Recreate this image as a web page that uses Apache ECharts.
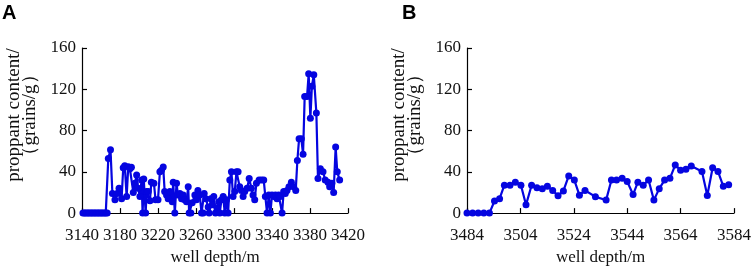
<!DOCTYPE html>
<html>
<head>
<meta charset="utf-8">
<script src="https://cdn.jsdelivr.net/npm/echarts@6/dist/echarts.min.js"></script>
<style>
  html, body { margin: 0; padding: 0; background: #fff; }
  #chart { width: 754px; height: 271px; }
</style>
</head>
<body>
<div id="chart"></div>
<script>
// panel A: well depth (m) and proppant content (grains/g)
const depthA = [
  3141, 3142.5, 3144, 3145.5, 3147, 3148.5, 3150, 3151.5, 3153, 3154.5, 3156, 3157.5, 3159, 3160.5, 3162, 3163.5, 3165, 3166.5,
  3167.7, 3170, 3172, 3174.7, 3177, 3179, 3181.7, 3183.4, 3185, 3187, 3188.7, 3190.4, 3192, 3194, 3195.7, 3197.5, 3199,
  3201, 3202.7, 3203.8, 3205, 3207, 3208, 3209.7, 3211.5, 3213, 3215.7, 3217.4, 3220, 3222, 3223.7, 3225.5, 3227, 3229,
  3230.7, 3232.5, 3235, 3236, 3237.7, 3239.5, 3241, 3243, 3244.8, 3246.5, 3248, 3250, 3251.8, 3252.8, 3254.6, 3256,
  3258.8, 3260.5, 3262, 3264, 3265.8, 3267.5, 3268.6, 3270.3, 3272.8, 3273.8, 3275.6, 3277.3, 3278.7, 3280.5, 3282,
  3284, 3285, 3286.8, 3288.6, 3290.3, 3292, 3293.8, 3295.6, 3297.3, 3299, 3300.8, 3302.6, 3304.3, 3306, 3307.8, 3309.6,
  3311.3, 3313.8, 3316, 3318.3, 3320, 3321.8, 3323.6, 3326.4, 3328.9, 3331.3, 3333, 3334.8, 3336.6, 3338.3, 3340,
  3341.8, 3343.6, 3345.3, 3347, 3348.8, 3350.6, 3352.3, 3354, 3355.8, 3357.9, 3360.4, 3362.8, 3365, 3366.7, 3368.5,
  3370.9, 3372.7, 3374.4, 3376.9, 3378.6, 3380.4, 3382, 3384, 3386.7, 3388.4, 3390.9, 3393.7, 3396, 3398.9, 3400.7,
  3403, 3404.9, 3407, 3408.7, 3411.2
];
const contentA = [
  0, 0, 0, 0, 0, 0, 0, 0, 0, 0, 0, 0, 0, 0, 0, 0, 0, 0,
  53, 61.5, 19, 13, 19, 24, 14, 44, 46, 16, 45, 43, 44.5, 20, 29, 37, 24,
  16, 32, 0, 33, 0, 21, 21, 12, 30, 29, 13, 13, 40, 41.5, 44.6, 21, 17.5,
  14, 21, 11, 30, 0, 29, 17.5, 19, 14, 17.5, 13, 11, 25.5, 0, 0, 10,
  17.5, 13, 22, 17.5, 0, 0, 19, 14, 6, 0, 14, 8, 16, 0, 5,
  11, 0, 13, 16, 0, 13, 0, 32, 40, 16, 21, 40, 40, 25.5, 22, 16,
  21, 24, 33.5, 24, 17.5, 13, 29, 32, 32, 32, 16, 0, 17.5, 0, 17.5,
  16, 17.5, 14, 17.5, 16, 0, 21, 19, 22, 25.5, 30, 25.5, 22, 51, 72,
  72, 57, 113, 113, 135, 92, 123, 134, 97, 33.5, 43, 40, 32, 30, 25.5,
  29, 20, 64, 40, 32
];

// panel B
const depthB = [
  3484, 3486.1, 3488.2, 3490.3, 3492.4, 3494.3, 3496.2, 3498, 3500.1, 3502.1, 3504.2, 3506.1, 3508.2, 3510.2,
  3512.2, 3514.1, 3516.1, 3518.1, 3520.1, 3522.1, 3524.2, 3526.1, 3528.2, 3532.1, 3536.1, 3538.1, 3540, 3542.1,
  3544, 3546.2, 3548, 3550, 3552, 3554, 3556, 3558, 3560, 3562, 3564, 3566, 3568, 3572, 3574, 3576, 3578, 3580, 3582
];
const contentB = [
  0, 0, 0, 0, 0, 11.7, 14, 27, 27, 30, 27, 8, 27, 24.6,
  23.7, 26, 22, 16.7, 21.5, 36, 32, 17.4, 22, 15.8, 12.6, 32, 32, 33.7,
  30.6, 18, 30, 27, 32, 12.6, 23.7, 32, 33.7, 46.7, 41.6, 42.6, 45.7, 40.4, 17, 44, 40.4, 26, 27.4
];

const yTicks = [0, 40, 80, 120, 160];
const xRangeA = [3140, 3420];
const xRangeB = [3484, 3584];

const serif = '"Liberation Serif", "DejaVu Serif", serif';
const lineColor = '#0505e0';

const pairs = (xs, ys) => xs.map((x, i) => [x, ys[i]]);

const xAxisBase = (range, gridIndex) => ({
  type: 'value',
  gridIndex: gridIndex,
  min: range[0],
  max: range[1],
  interval: gridIndex === 0 ? 40 : 20,
  name: 'well depth/m',
  nameLocation: 'middle',
  nameGap: 30,
  nameTextStyle: { fontFamily: serif, fontSize: 17, color: '#111' },
  axisLine: { show: true, lineStyle: { color: '#000', width: 1.2 } },
  axisTick: { show: true, inside: true, length: 5, lineStyle: { color: '#000', width: 1.2 } },
  axisLabel: {
    fontFamily: serif, fontSize: 17, color: '#111', margin: 14,
    hideOverlap: false, showMinLabel: true, showMaxLabel: true,
    formatter: (v) => String(v)
  },
  splitLine: { show: false }
});

const yAxisBase = (gridIndex) => ({
  type: 'value',
  gridIndex: gridIndex,
  min: yTicks[0],
  max: yTicks[yTicks.length - 1],
  interval: 40,
  axisLine: { show: true, lineStyle: { color: '#000', width: 1.2 } },
  axisTick: { show: true, inside: true, length: 5, lineStyle: { color: '#000', width: 1.2 } },
  axisLabel: { fontFamily: serif, fontSize: 17, color: '#111', margin: 6, formatter: (v) => String(v) },
  splitLine: { show: false }
});

const seriesBase = (xi, data) => ({
  type: 'line',
  xAxisIndex: xi,
  yAxisIndex: xi,
  data: data,
  symbol: 'circle',
  symbolSize: 7,
  showSymbol: true,
  clip: false,
  lineStyle: { color: lineColor, width: 2.2 },
  itemStyle: { color: lineColor },
  animation: false
});

// rotated two-line y-axis title
const yName = (x) => ({
  type: 'group', x: x, y: 115, rotation: Math.PI / 2,
  children: [{
    type: 'text',
    style: {
      text: 'proppant content/\n（grains/g）',
      font: '19px ' + serif, fill: '#111',
      align: 'center', verticalAlign: 'middle', lineHeight: 16
    }
  }]
});

const chart = echarts.init(document.getElementById('chart'));
chart.setOption({
  backgroundColor: '#fff',
  animation: false,
  grid: [
    { left: 82, top: 48, width: 266, height: 168 },
    { left: 467, top: 48, width: 269, height: 168 }
  ],
  xAxis: [xAxisBase(xRangeA, 0), xAxisBase(xRangeB, 1)],
  yAxis: [yAxisBase(0), yAxisBase(1)],
  series: [
    seriesBase(0, pairs(depthA, contentA)),
    seriesBase(1, pairs(depthB, contentB))
  ],
  graphic: [
    { type: 'text', left: 2, top: 3, style: { text: 'A', font: 'bold 20px "Liberation Sans", Arial, sans-serif', fill: '#000' } },
    { type: 'text', left: 402, top: 3, style: { text: 'B', font: 'bold 20px "Liberation Sans", Arial, sans-serif', fill: '#000' } },
    yName(22),
    yName(407)
  ]
});
</script>
</body>
</html>
